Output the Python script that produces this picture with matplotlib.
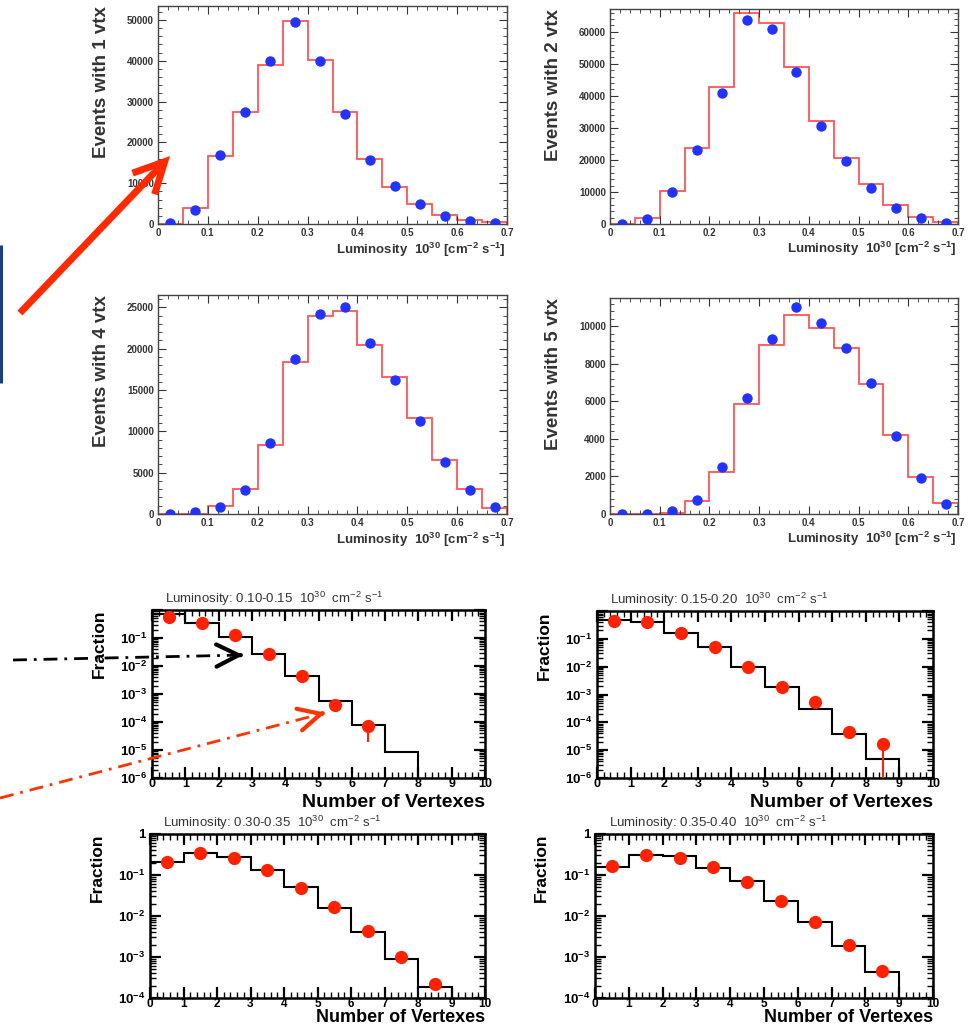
import numpy as np
import matplotlib
matplotlib.use("Agg")
import matplotlib.pyplot as plt
from matplotlib.ticker import MultipleLocator, AutoMinorLocator, LogLocator, NullFormatter, FuncFormatter
from matplotlib.patches import FancyArrowPatch

plt.rcParams['font.family'] = ['Liberation Sans', 'DejaVu Sans']
plt.rcParams['font.weight'] = 'bold'
plt.rcParams['axes.labelweight'] = 'bold'
plt.rcParams['mathtext.default'] = 'regular'

# ---------------- data ----------------
lumi_edges = [0.0, 0.05, 0.10, 0.15, 0.20, 0.25, 0.30, 0.35, 0.40, 0.45, 0.50, 0.55, 0.60, 0.65, 0.70]

hist_1vtx = [0, 3800, 16700, 27400, 38900, 49800, 40200, 27400, 15900, 9100, 5000, 2200, 1000, 600]
data_1vtx = [150, 3500, 16900, 27500, 40000, 49600, 40000, 27000, 15600, 9400, 4900, 2000, 800, 200]

hist_2vtx = [0, 1900, 10400, 23800, 42700, 65700, 62600, 48900, 32000, 20700, 12400, 6000, 2200, 600]
data_2vtx = [0, 1600, 10100, 23000, 40900, 63800, 61000, 47300, 30500, 19600, 11200, 5000, 1800, 300]

hist_4vtx = [0, 0, 970, 3000, 8350, 18350, 23950, 24600, 20450, 16600, 11600, 6500, 3000, 700]
data_4vtx = [0, 200, 900, 2900, 8550, 18800, 24200, 25080, 20650, 16200, 11300, 6330, 2900, 800]

hist_5vtx = [0, 0, 50, 680, 2220, 5840, 8990, 10590, 9910, 8860, 6940, 4180, 1990, 570]
data_5vtx = [0, 0, 180, 750, 2490, 6190, 9340, 11000, 10180, 8860, 6980, 4150, 1920, 530]

vtx_edges = [0, 1, 2, 3, 4, 5, 6, 7, 8, 9, 10]

mc_lumi_010_015 = [0.72, 0.34, 0.108, 0.027, 0.0045, 5.5e-4, 7.6e-5, 8.3e-6, 0, 0]
dt_lumi_010_015 = [0.58, 0.34, 0.124, 0.026, 0.0045, 4.2e-4, 7.2e-5]
dt_lo_010_015 = [0, 0, 0, 0, 0, 0, 5.2e-5]
dt_hi_010_015 = [0, 0, 0, 0, 0, 0, 1.5e-5]

mc_lumi_015_020 = [0.48, 0.39, 0.16, 0.05, 0.01, 0.0019, 2.9e-4, 3.8e-5, 4.8e-6, 0]
dt_lumi_015_020 = [0.45, 0.39, 0.16, 0.05, 0.01, 0.0019, 5.2e-4, 4.4e-5, 1.6e-5]
dt_lo_015_020 = [0, 0, 0, 0, 0, 0, 0, 1.8e-5, 1.6e-5]
dt_hi_015_020 = [0, 0, 0, 0, 0, 0, 0, 1.2e-5, 1.0e-5]

mc_lumi_030_035 = [0.21, 0.35, 0.27, 0.129, 0.05, 0.0155, 0.004, 9e-4, 1.9e-4, 0]
dt_lumi_030_035 = [0.21, 0.34, 0.26, 0.13, 0.049, 0.0169, 0.0043, 0.00102, 2.2e-4]

mc_lumi_035_040 = [0.16, 0.31, 0.29, 0.15, 0.072, 0.0235, 0.0071, 0.0019, 4.3e-4, 0]
dt_lumi_035_040 = [0.17, 0.31, 0.26, 0.155, 0.069, 0.0235, 0.0071, 0.002, 4.6e-4]

top_ylabels = ["Events with 1 vtx", "Events with 2 vtx", "Events with 4 vtx", "Events with 5 vtx"]
low_titles = ["Luminosity: 0.10-0.15  10$^{30}$  cm$^{-2}$ s$^{-1}$",
              "Luminosity: 0.15-0.20  10$^{30}$  cm$^{-2}$ s$^{-1}$",
              "Luminosity: 0.30-0.35  10$^{30}$  cm$^{-2}$ s$^{-1}$",
              "Luminosity: 0.35-0.40  10$^{30}$  cm$^{-2}$ s$^{-1}$"]

# ---------------- layout ----------------
W, H = 969, 1030
fig = plt.figure(figsize=(W / 100, H / 100), dpi=100)
fig.patch.set_facecolor('white')


def add_ax(l, t, r, b):
    return fig.add_axes([l / W, 1 - b / H, (r - l) / W, (b - t) / H])


lumi_centers = [(a + b) / 2 for a, b in zip(lumi_edges[:-1], lumi_edges[1:])]
vtx_centers = [(a + b) / 2 for a, b in zip(vtx_edges[:-1], vtx_edges[1:])]

top_boxes = [(158, 6, 507, 224), (610, 9, 958, 224), (158, 295, 507, 514), (610, 298, 958, 514)]
top_hists = [hist_1vtx, hist_2vtx, hist_4vtx, hist_5vtx]
top_data = [data_1vtx, data_2vtx, data_4vtx, data_5vtx]
top_steps = [10000, 10000, 5000, 2000]
top_ymax = [53400, 67100, 26500, 11500]

for box, hv, dv, lab, step, ymax in zip(top_boxes, top_hists, top_data, top_ylabels, top_steps, top_ymax):
    ax = add_ax(*box)
    ax.stairs(hv, lumi_edges, color='#ff5555', lw=1.3, baseline=0)
    ax.plot(lumi_centers, dv, 'o', color='#2233ff', ms=7.5, mec='none', zorder=3)
    ax.set_xlim(0, 0.7)
    ax.set_ylim(0, ymax)
    ax.xaxis.set_major_locator(MultipleLocator(0.1))
    ax.xaxis.set_minor_locator(AutoMinorLocator(5))
    ax.yaxis.set_major_locator(MultipleLocator(step))
    ax.yaxis.set_minor_locator(AutoMinorLocator(5))
    ax.xaxis.set_major_formatter(FuncFormatter(lambda v, p: '0' if abs(v) < 1e-9 else f'{v:.1f}'))
    ax.yaxis.set_major_formatter(FuncFormatter(lambda v, p: f'{v:.0f}'))
    ax.tick_params(which='both', direction='in', top=True, right=True, labelsize=7, colors='#333333')
    ax.tick_params(which='major', length=6, width=0.8, pad=3)
    ax.tick_params(which='minor', length=3, width=0.6)
    for s in ax.spines.values():
        s.set_linewidth(1.0)
        s.set_color('#444444')
    ax.set_xlabel(r'Luminosity  10$^{30}$ [cm$^{-2}$ s$^{-1}$]', loc='right', fontsize=9.5,
                  fontweight='bold', color='#333333')
    ax.xaxis.set_label_coords(0.995, -0.075)
    ax.set_ylabel(lab, loc='top', fontsize=13.5, fontweight='bold', color='#333333')
    ax.yaxis.set_label_coords(-0.137, 1.0)

low_boxes = [(152, 610, 485, 778), (597, 611, 933, 778), (150, 834, 485, 998), (595, 834, 933, 998)]
low_mc = [mc_lumi_010_015, mc_lumi_015_020, mc_lumi_030_035, mc_lumi_035_040]
low_dt = [dt_lumi_010_015, dt_lumi_015_020, dt_lumi_030_035, dt_lumi_035_040]
low_lo = [dt_lo_010_015, dt_lo_015_020, None, None]
low_hi = [dt_hi_010_015, dt_hi_015_020, None, None]
low_ymin = [1e-6, 1e-6, 1e-4, 1e-4]
low_show_one = [False, False, True, True]
low_xlab_y = [-0.095, -0.095, -0.07, -0.07]
low_xlab_size = [14, 14, 13, 13]
low_xtick_size = [9, 9, 8.5, 8.5]


def log_fmt(show_one):
    def f(v, p):
        e = int(round(np.log10(v)))
        if e == 0:
            return '1' if show_one else ''
        return r'$10^{%d}$' % e
    return f


for box, mc, dt, lo, hi, title, ymin, show1, xly, xls, xts in zip(
        low_boxes, low_mc, low_dt, low_lo, low_hi, low_titles, low_ymin, low_show_one,
        low_xlab_y, low_xlab_size, low_xtick_size):
    ax = add_ax(*box)
    ax.set_yscale('log')
    mcv = np.asarray(mc, dtype=float)
    ax.stairs(np.where(mcv > 0, mcv, 1e-12), vtx_edges, color='black', lw=1.5, baseline=None)
    n = len(dt)
    if lo is None:
        ax.plot(vtx_centers[:n], dt, 'o', color='#ff2200', ms=9.5, mec='none', zorder=3)
    else:
        ax.errorbar(vtx_centers[:n], dt, yerr=[lo, hi], fmt='o', color='#ff2200', ms=9.5, mec='none',
                    elinewidth=1.5, capsize=0, zorder=3)
    ax.set_xlim(0, 10)
    ax.set_ylim(ymin, 1)
    ax.xaxis.set_major_locator(MultipleLocator(1))
    ax.xaxis.set_minor_locator(AutoMinorLocator(5))
    ax.yaxis.set_major_locator(LogLocator(base=10, numticks=15))
    ax.yaxis.set_minor_locator(LogLocator(base=10, subs=np.arange(2, 10), numticks=15))
    ax.yaxis.set_minor_formatter(NullFormatter())
    ax.yaxis.set_major_formatter(FuncFormatter(log_fmt(show1)))
    ax.tick_params(which='both', direction='in', top=True, right=True, labelsize=9.5)
    ax.tick_params(axis='x', which='major', labelsize=xts, pad=0.3)
    ax.tick_params(which='major', length=8, width=1.6)
    ax.tick_params(which='minor', length=4, width=1.0)
    for s in ax.spines.values():
        s.set_linewidth(1.8)
    ax.set_xlabel('Number of Vertexes', loc='right', fontsize=xls, fontweight='bold')
    ax.xaxis.set_label_coords(1.0, xly)
    ax.set_ylabel('Fraction', loc='top', fontsize=12.5, fontweight='bold')
    ax.yaxis.set_label_coords(-0.135, 1.0)
    ax.text(0.04, 1.01, title, transform=ax.transAxes, ha='left', va='bottom',
            fontsize=9.5, fontweight='normal', color='#333333')

# ---------------- annotations overlay ----------------
ov = fig.add_axes([0, 0, 1, 1], zorder=10)
ov.set_xlim(0, W)
ov.set_ylim(H, 0)
ov.axis('off')
ov.patch.set_alpha(0)

# blue bar at left edge
ov.plot([1.5, 1.5], [245, 383], color='#1c3f80', lw=2.2, solid_capstyle='butt')

# big red arrow
ov.add_patch(FancyArrowPatch((18, 315), (172, 154), arrowstyle='->,head_length=22,head_width=11',
                             mutation_scale=1, color='#ff2a00', lw=5, capstyle='butt', joinstyle='miter'))

# black dash-dot arrow
ov.plot([13, 240], [660, 655.1], color='black', lw=2, dashes=(5, 2.5, 1, 2.5))
ov.add_patch(FancyArrowPatch((238, 655.15), (246, 655), arrowstyle='->,head_length=16,head_width=8',
                             mutation_scale=1, color='black', lw=3))

# red dash-dot arrow
ov.plot([0, 322], [798, 713.6], color='#ff3300', lw=2, dashes=(5, 2.5, 1, 2.5))
ov.add_patch(FancyArrowPatch((320, 714.1), (328, 712), arrowstyle='->,head_length=16,head_width=8',
                             mutation_scale=1, color='#ff3300', lw=3))

fig.savefig('out.png', dpi=100, facecolor='white')
